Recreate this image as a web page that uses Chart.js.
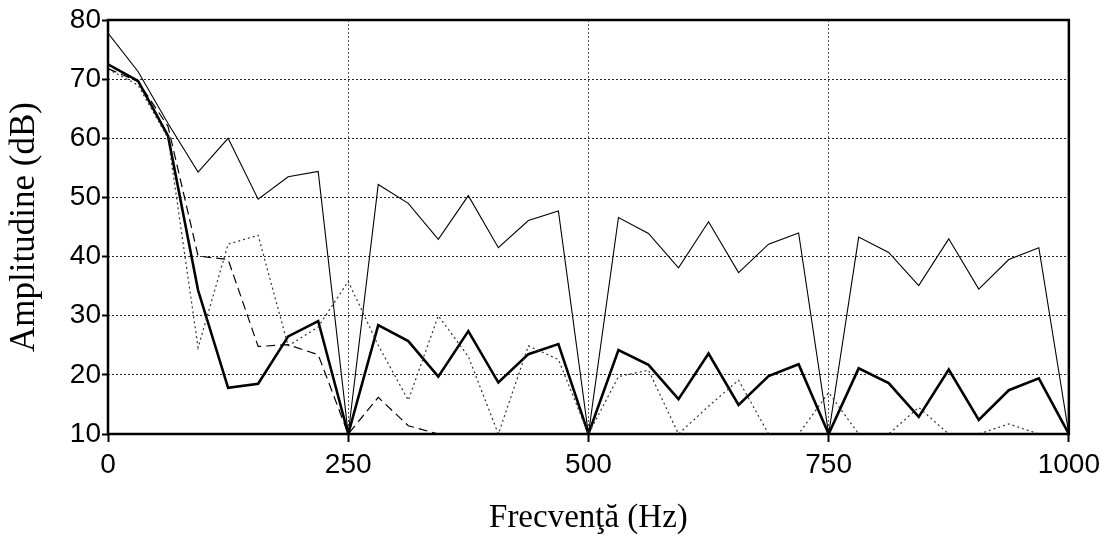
<!DOCTYPE html>
<html>
<head>
<meta charset="utf-8">
<script src="https://cdn.jsdelivr.net/npm/chart.js@4"></script>
<style>
  body { margin: 0; background: #fff; }
  #wrap { width: 1106px; height: 539px; position: relative; }
</style>
</head>
<body>
<div id="wrap"><canvas id="myChart"></canvas></div>
<script>
// frecvente (Hz)
const frecvente = [0, 31.25, 62.5, 93.75, 125, 156.25, 187.5, 218.75, 250,
  281.25, 312.5, 343.75, 375, 406.25, 437.5, 468.75, 500,
  531.25, 562.5, 593.75, 625, 656.25, 687.5, 718.75, 750,
  781.25, 812.5, 843.75, 875, 906.25, 937.5, 968.75, 1000]

// amplitudini (dB)
const subtire = [77.8, 71.3, 62.5, 54.3, 60, 49.7, 53.5, 54.4, 10,
  52.2, 49.0, 42.9, 50.3, 41.5, 46.1, 47.7, 10,
  46.6, 43.9, 38.1, 45.9, 37.3, 42.1, 44.0, 10,
  43.3, 40.7, 35.1, 43.0, 34.5, 39.5, 41.5, 10]
const groasa = [72.5, 69.7, 60.4, 34.3, 17.8, 18.5, 26.5, 29.1, 10,
  28.4, 25.7, 19.7, 27.4, 18.7, 23.5, 25.2, 10,
  24.2, 21.7, 15.9, 23.6, 14.9, 19.8, 21.8, 10,
  21.1, 18.6, 12.9, 20.9, 12.4, 17.4, 19.4, 10]
const intrerupta = [71.8, 69.6, 62, 40.1, 39.5, 24.8, 25.1, 23.4, 10,
  16.2, 11.4, 10, 10, 10, 10, 10, 10,
  10, 10, 10, 10, 10, 10, 10, 10,
  10, 10, 10, 10, 10, 10, 10, 10]
const punctata = [71.7, 69, 60, 24.6, 42.1, 43.6, 24.9, 28.1, 35.8,
  25, 15.7, 30.0, 23.1, 10, 24.9, 22.6, 10,
  19.7, 20.8, 10, 14.7, 19.1, 10, 10, 17,
  10, 10, 14.5, 10, 10, 11.7, 10, 10]

const xTicks = [0, 250, 500, 750, 1000]
const yTicks = [10, 20, 30, 40, 50, 60, 70, 80]

const puncte = vals => frecvente.map((f, i) => ({ x: f, y: vals[i] }))

const linie = (vals, w, dash, color) => ({
  data: puncte(vals),
  borderColor: color,
  borderWidth: w,
  borderDash: dash,
  pointRadius: 0,
  tension: 0,
  fill: false
})

// chenarul din jurul graficului
const chenar = {
  id: 'chenar',
  afterDraw(chart) {
    const { ctx, chartArea: a } = chart
    ctx.save()
    ctx.strokeStyle = '#000'
    ctx.lineWidth = 2.5
    ctx.setLineDash([])
    ctx.strokeRect(a.left, a.top, a.right - a.left, a.bottom - a.top)
    ctx.restore()
  }
}

const ctx = document.getElementById('myChart')

new Chart(ctx, {
  type: 'line',
  data: {
    datasets: [
      linie(punctata, 1.2, [2, 3], '#333'),
      linie(intrerupta, 1.2, [9, 5], '#000'),
      linie(subtire, 1.1, [], '#000'),
      linie(groasa, 2.6, [], '#000')
    ]
  },
  options: {
    responsive: true,
    maintainAspectRatio: false,
    animation: false,
    layout: { padding: { top: 20, right: 36, left: 0, bottom: 0 } },
    plugins: { legend: { display: false }, tooltip: { enabled: false } },
    scales: {
      x: {
        type: 'linear',
        min: 0,
        max: 1000,
        afterBuildTicks: s => { s.ticks = xTicks.map(v => ({ value: v })) },
        afterFit: s => { s.height = 105 },
        ticks: {
          color: '#000',
          font: { family: 'Liberation Sans', size: 28 },
          padding: 6,
          maxRotation: 0,
          callback: v => String(v)
        },
        grid: {
          color: '#555',
          lineWidth: 1,
          tickLength: 8,
          tickWidth: 2,
          tickColor: '#000',
          tickBorderDash: [0, 0]
        },
        border: { display: false, dash: [2, 2] },
        title: {
          display: true,
          text: 'Frecvenţă (Hz)',
          color: '#000',
          font: { family: 'Liberation Serif', size: 33 },
          padding: { top: 0, bottom: 1 }
        }
      },
      y: {
        min: 10,
        max: 80,
        afterBuildTicks: s => { s.ticks = yTicks.map(v => ({ value: v })) },
        afterFit: s => { s.width = 108 },
        ticks: {
          color: '#000',
          font: { family: 'Liberation Sans', size: 28 },
          padding: 1,
          callback: v => String(v)
        },
        grid: {
          color: '#222',
          lineWidth: 1,
          tickLength: 6,
          tickWidth: 2,
          tickColor: '#000',
          tickBorderDash: [0, 0]
        },
        border: { display: false, dash: [2, 2] },
        title: {
          display: true,
          text: 'Amplitudine (dB)',
          color: '#000',
          font: { family: 'Liberation Serif', size: 35 },
          padding: { top: 4, bottom: 0 }
        }
      }
    }
  },
  plugins: [chenar]
})
</script>
</body>
</html>
